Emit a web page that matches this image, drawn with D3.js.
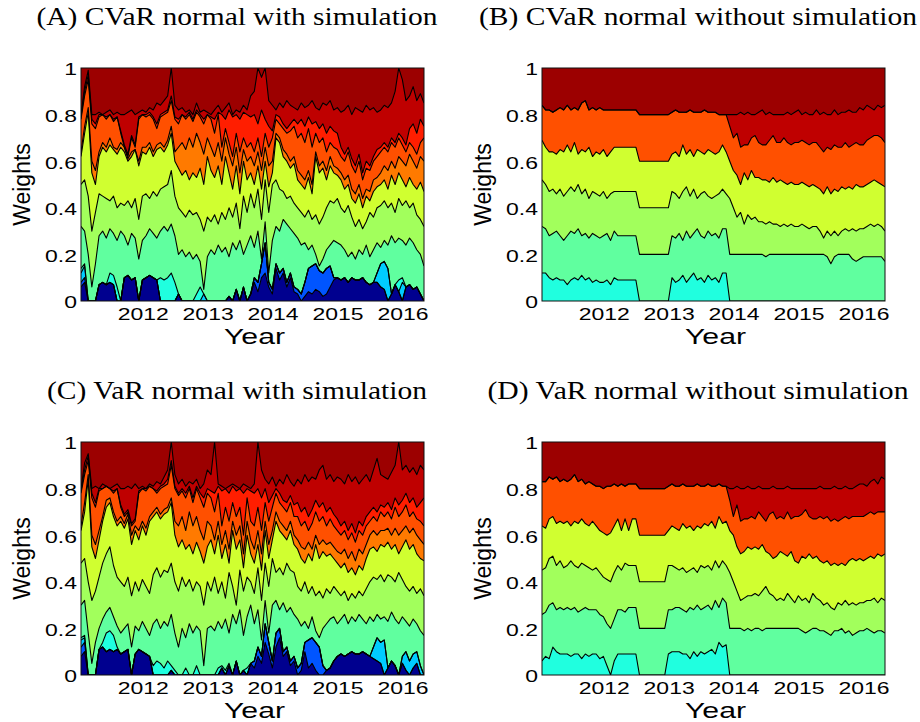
<!DOCTYPE html>
<html>
<head>
<meta charset="utf-8">
<script src="https://cdn.jsdelivr.net/npm/d3@7"></script>
<style>
  body { margin: 0; background: #fff; }
  svg { display: block; }
</style>
</head>
<body>
<svg id="chart" width="920" height="722"></svg>
<script>
// sampling of the back-test dates (decimal years)
const tStart = 2011.05, tStep = 0.0556, nPts = 96;
const xTicks = [2012, 2013, 2014, 2015, 2016];
const yTicks = [0, 0.2, 0.4, 0.6, 0.8, 1];

// cumulative portfolio weights (%), one array per stacked layer top

// (A) CVaR normal with simulation
const cvarSimNavy = [6,8,0,0,0,7,8,7,8,7,0,0, 10,11,9,10,0,9,10,11,10,9,0,0, 0,0,0,3,0,0,0,0,0,0,0,0, 0,0,0,0,0,2,0,5,0,6,0,3, 8,4,10,12,6,3,14,9,12,6,10,4, 3,0,2,4,3,5,4,2,3,6,9,10, 9,10,8,10,9,9,10,8,7,8,8,6, 5,0,3,7,4,0,6,7,5,6,3,0];
const cvarSimBlue = [8,10,0,0,0,7,8,7,8,7,0,0, 10,11,9,10,0,9,10,11,10,9,0,0, 0,0,0,3,0,0,0,0,0,0,0,0, 0,0,0,0,0,2,0,5,0,6,0,3, 10,8,16,25,8,5,16,12,14,8,12,6, 5,3,8,14,15,16,13,12,14,15,10,10, 9,10,8,10,9,9,10,8,7,8,8,6, 5,0,3,7,4,0,6,7,5,6,3,0];
const cvarSimSky = [12,15,0,0,0,7,8,7,8,7,0,0, 10,11,9,10,0,9,10,11,10,9,0,0, 0,0,0,3,0,0,0,0,0,0,3,0, 0,0,0,0,0,2,0,5,0,6,0,3, 10,8,16,25,8,5,16,12,14,8,12,6, 5,3,8,14,15,16,13,12,14,15,10,10, 9,10,8,10,9,9,10,8,7,8,12,16, 17,14,3,7,4,8,6,7,5,6,3,0];
const cvarSimAqua = [14,16,0,0,0,7,8,7,12,11,6,0, 10,11,9,10,0,9,10,11,10,9,10,9, 10,12,8,3,0,0,0,0,3,6,3,0, 0,0,0,0,0,2,0,5,0,6,0,3, 10,8,16,25,8,5,16,12,14,8,12,6, 5,3,8,14,15,16,13,12,14,15,10,10, 9,10,8,10,9,9,10,8,7,8,12,16, 17,14,3,7,9,10,6,7,5,6,3,0];
const cvarSimSea = [32,30,20,6,16,28,30,27,31,29,26,30, 28,24,29,27,18,26,28,31,29,27,30,32, 30,33,28,20,22,19,21,18,20,17,5,19, 22,20,24,21,23,19,25,22,26,20,24,28, 23,30,18,34,12,26,32,30,35,33,31,29, 27,24,25,22,24,20,15,18,22,24,26,25, 24,22,19,21,18,22,20,24,19,22,25,23, 26,24,28,25,27,26,24,27,25,22,20,15];
const cvarSimLime = [50,52,45,30,38,46,45,44,43,45,40,42, 41,43,40,44,35,45,46,44,47,45,48,49, 50,56,45,40,38,36,39,37,38,35,30,36, 34,37,33,38,35,40,36,42,31,45,38,46, 40,48,35,52,38,50,52,48,47,44,45,42, 40,38,36,39,35,37,33,36,40,43,42,44, 40,38,41,36,32,35,31,34,38,36,40,41, 43,40,42,38,44,41,43,40,42,37,35,32];
const cvarSimYellowGreen = [62,72,81,55,50,62,66,64,67,65,63,66, 64,60,62,65,58,64,63,66,62,65,66,64, 67,72,60,57,54,56,52,55,53,57,50,62, 56,53,58,50,62,55,48,58,46,60,52,55, 50,58,48,60,49,55,70,68,62,60,57,59, 52,50,48,53,46,62,55,57,52,58,55,54, 52,48,50,44,42,46,40,45,43,47,49,50, 52,48,54,50,55,52,49,53,50,48,51,47];
const cvarSimOrange = [64,75,83,60,56,64,68,66,70,66,65,68, 66,61,64,65,60,66,66,68,64,67,68,66, 69,75,64,66,68,65,70,66,72,68,63,70, 66,62,68,60,70,63,58,66,55,65,60,62, 58,64,56,66,58,60,72,70,65,63,60,62, 56,54,52,56,50,64,58,60,56,62,58,57, 55,52,54,48,46,50,44,48,47,52,53,55, 58,56,60,57,62,60,58,63,60,57,62,60];
const cvarSimRedOrange = [78,88,95,76,74,79,80,78,80,77,79,72, 66,62,70,66,78,80,79,80,78,74,79,80, 81,86,78,76,80,78,80,77,81,79,76,80, 78,72,80,66,74,68,62,72,64,70,66,68, 64,70,62,72,66,70,78,76,74,72,73,75, 70,72,68,74,66,72,68,70,64,68,66,65, 62,60,64,58,55,60,52,57,56,60,62,64, 66,64,68,66,70,67,64,68,66,63,68,70];
const cvarSimRed = [79,90,97,78,76,80,80,79,80,78,79,73, 67,63,71,67,79,80,80,81,79,76,80,81, 82,88,79,78,80,79,81,78,82,80,78,80, 79,78,81,80,78,82,79,80,78,81,80,79, 80,76,82,78,75,73,80,79,76,74,76,78, 76,78,75,79,76,77,74,76,72,75,73,72, 66,63,66,61,58,63,55,60,58,62,65,66, 68,66,70,68,72,70,67,74,76,72,78,75];
const cvarSimDarkRed = [80,92,99,80,80,81,80,81,82,80,81,80, 80,81,82,80,81,82,81,83,82,85,84,86, 88,100,84,82,83,81,82,80,85,81,82,81, 80,82,84,81,83,85,80,82,81,84,82,88, 90,100,96,100,86,84,82,85,83,86,84,83, 82,85,83,84,86,83,82,85,84,86,82,83, 81,82,84,80,83,82,81,84,82,83,81,82, 84,83,85,90,100,95,86,88,92,86,89,85];

// (B) CVaR normal without simulation
const cvarAqua = [12,12,10,9,10,9,9,7,9,10,9,11, 9,10,8,9,8,8,9,7,10,9,9,9, 9,9,9,0,0,0,0,0,0,0,0,0, 10,8,9,11,8,10,12,9,10,8,11,9, 10,8,12,12,0,0,0,0,0,0,0,0, 0,0,0,0,0,0,0,0,0,0,0,0, 0,0,0,0,0,0,0,0,0,0,0,0, 0,0,0,0,0,0,0,0,0,0,0,0];
const cvarSea = [32,31,28,29,30,28,26,28,30,29,31,28, 29,27,29,28,27,28,29,26,30,28,28,28, 28,28,28,20,20,20,20,20,20,20,20,20, 28,27,29,26,30,27,29,31,28,27,30,28, 29,27,31,31,20,20,20,20,20,20,20,20, 20,20,19,20,20,20,20,20,20,20,20,20, 20,20,20,20,20,20,20,19,16,19,20,20, 20,20,18,17,18,19,19,19,19,19,19,17];
const cvarLime = [52,50,47,48,46,48,45,47,49,47,50,46, 48,44,47,46,45,47,44,46,47,47,47,47, 47,47,47,40,40,40,40,40,40,40,40,40, 47,46,44,47,49,45,48,44,46,47,45,44, 45,46,48,46,44,40,36,38,33,37,35,36, 34,34,33,34,33,33,32,33,32,33,32,32, 33,32,31,32,32,30,27,30,28,30,28,30, 31,30,31,30,31,31,32,33,32,33,32,30];
const cvarYellowGreen = [69,66,64,64,63,65,64,67,64,68,63,65, 64,66,62,64,63,65,62,64,66,66,66,66, 66,66,66,60,60,60,60,60,60,60,60,60, 63,64,62,67,63,65,62,65,64,63,65,64, 63,64,67,64,60,56,54,50,55,52,56,53, 53,52,52,51,53,51,52,51,50,51,50,50, 51,50,49,50,49,48,46,49,46,48,47,49, 48,49,48,50,49,49,50,51,52,51,50,49];
const cvarRedOrange = [84,82,82,81,82,83,82,84,82,83,82,85, 86,82,83,82,83,82,82,82,82,82,82,82, 82,82,82,80,80,80,80,80,80,80,80,80, 81,82,81,81,81,82,81,81,81,82,81,81, 81,80,80,80,75,70,72,66,67,67,70,71, 68,67,67,69,71,68,68,70,68,67,68,68, 69,68,67,68,68,66,64,66,65,67,66,66, 68,66,67,68,67,67,69,70,71,71,70,68];
const cvarDarkRed = [84,82,82,81,82,83,82,84,82,83,82,85, 86,82,83,82,83,82,82,82,82,82,82,82, 82,82,82,80,80,80,80,80,80,80,80,80, 81,82,81,81,81,82,81,81,81,82,81,81, 81,80,80,80,80,80,80,81,80,81,80,80, 81,82,80,81,80,80,80,80,81,80,81,82, 80,81,80,80,82,80,81,80,80,82,80,81, 81,82,81,81,83,82,84,83,82,84,83,84];

// (C) VaR normal with simulation
const varSimNavy = [8,10,0,0,0,11,12,10,11,10,11,9, 10,11,0,9,11,10,9,8,0,0,0,0, 0,2,0,0,0,0,0,0,0,0,0,0, 0,0,0,3,0,4,0,6,0,2,0,5, 3,8,5,14,9,3,12,16,8,10,4,6, 0,2,10,3,5,2,0,0,2,3,6,8, 9,8,9,10,9,9,10,9,8,7,6,5, 0,3,6,4,0,5,2,0,3,5,0,0];
const varSimBlue = [12,14,0,0,0,11,12,10,11,10,11,9, 10,11,0,9,11,10,9,8,0,0,0,0, 0,2,0,0,0,0,0,0,0,0,0,0, 0,0,0,3,0,4,0,6,0,2,0,5, 6,12,8,22,14,6,18,20,10,12,6,8, 3,5,14,15,16,14,12,4,2,3,6,8, 9,8,9,10,9,9,10,9,8,7,6,5, 0,3,6,4,0,5,2,0,3,5,0,0];
const varSimSky = [15,16,0,0,0,11,12,10,11,10,11,9, 10,11,0,9,11,10,9,8,0,0,0,0, 0,2,0,0,0,0,0,0,0,0,0,0, 0,0,0,3,0,4,0,6,0,2,0,5, 6,12,8,22,14,6,18,20,10,12,6,8, 3,5,14,15,16,14,12,4,2,3,6,8, 9,8,9,10,9,9,10,9,8,12,16,14, 15,3,6,4,0,8,10,6,9,10,4,0];
const varSimAqua = [16,17,0,0,0,11,14,18,19,17,12,9, 10,11,0,9,11,10,9,8,4,6,5,3, 6,4,2,0,0,3,0,0,4,0,0,0, 0,0,3,4,2,5,0,6,0,2,3,5, 6,12,8,22,14,6,18,20,10,12,6,8, 3,5,14,15,16,14,12,4,2,3,6,8, 9,8,9,10,9,9,10,9,8,12,16,14, 15,3,6,4,0,8,10,6,9,10,4,0];
const varSimSea = [30,32,18,5,14,20,24,27,29,25,21,18, 20,22,12,21,19,23,20,17,22,24,20,23, 21,26,18,12,20,16,22,18,21,19,4,20, 21,19,23,20,24,18,26,22,28,17,25,30, 22,28,15,32,18,30,32,28,31,27,29,26, 24,21,23,20,25,19,16,20,22,24,25,22, 24,26,22,25,23,26,24,22,25,23,26,24, 25,23,27,24,22,25,23,21,24,22,19,17];
const varSimLime = [48,50,40,32,36,42,48,52,55,47,42,40, 38,42,34,40,36,41,38,35,43,46,42,45, 44,48,40,36,42,38,41,36,40,38,30,40, 36,42,35,40,33,44,38,30,45,36,42,40, 35,46,32,48,38,50,44,46,43,48,45,44, 38,36,40,35,38,34,36,33,37,35,38,36, 34,36,32,35,33,36,34,37,40,42,41,43, 40,43,42,40,44,41,38,36,38,35,37,34];
const varSimYellowGreen = [62,70,84,55,50,58,66,72,74,68,64,66, 63,67,56,62,58,64,60,66,68,70,67,69, 70,74,60,55,58,54,56,52,57,53,48,55, 58,52,60,50,56,48,62,54,58,46,60,52, 48,56,45,62,50,58,66,62,60,58,62,56, 54,50,48,52,49,56,50,53,51,52,50,48, 46,48,44,46,43,47,45,50,54,55,53,56, 55,57,54,56,52,55,58,54,56,52,50,49];
const varSimOrange = [64,74,86,60,56,62,68,75,76,70,66,68, 65,69,60,64,62,66,63,68,70,72,69,71, 72,76,66,64,68,62,70,64,68,62,58,66, 64,58,66,56,62,54,66,60,64,52,66,58, 54,62,52,66,56,62,70,66,64,62,66,60, 58,55,54,57,54,60,56,58,56,57,55,53, 52,54,50,53,49,54,52,56,60,62,60,62, 62,63,60,63,60,62,64,61,63,60,58,56];
const varSimRedOrange = [78,86,92,76,72,79,80,81,80,78,80,72, 68,70,64,66,78,80,79,81,80,78,80,81, 82,90,80,77,79,76,80,74,80,76,72,78, 76,70,78,64,72,66,74,68,72,60,76,66, 64,72,62,74,66,72,78,74,72,70,74,68, 68,64,66,62,65,70,66,68,64,67,64,62, 60,62,58,61,57,62,60,64,66,68,66,70, 68,70,67,72,68,70,73,68,70,67,66,64];
const varSimRed = [79,88,94,78,74,80,80,81,80,79,80,73, 69,71,65,67,79,80,80,81,80,79,81,82, 84,92,81,78,80,78,81,76,81,78,76,80, 79,78,81,79,80,78,81,79,80,78,80,79, 78,80,76,80,74,77,80,78,75,74,77,73, 74,70,72,68,71,75,72,74,70,72,69,67, 64,66,62,65,61,66,64,68,70,72,70,73, 72,74,71,76,73,75,78,74,76,72,74,76];
const varSimDarkRed = [80,91,95,80,81,80,82,81,80,81,82,80, 80,81,80,82,80,81,80,82,81,83,82,85, 88,100,86,82,84,81,83,82,84,80,82,88, 86,100,82,81,80,81,82,81,80,82,81,80, 82,100,88,84,82,85,81,84,82,86,83,81, 84,82,86,83,85,84,88,90,84,86,83,85, 84,82,86,83,85,82,84,86,83,88,93,86, 85,84,87,90,100,88,90,87,89,86,90,88];

// (D) VaR normal without simulation
const varAqua = [6,8,7,12,10,9,9,9,8,9,9,7, 9,8,9,9,7,8,4,0,6,9,9,9, 9,9,9,0,0,0,0,0,0,0,0,9, 10,10,10,9,9,7,10,8,10,9,10,11, 9,14,12,13,0,0,0,0,0,0,0,0, 0,0,0,0,0,0,0,0,0,0,0,0, 0,0,0,0,0,0,0,0,0,0,0,0, 0,0,0,0,0,0,0,0,0,0,0,0];
const varSea = [26,27,30,31,28,29,28,29,28,29,27,28, 29,28,28,28,26,25,22,20,24,28,28,27, 29,29,29,20,20,20,20,20,20,20,20,28, 28,29,29,28,27,29,28,30,28,29,30,28, 32,29,33,31,20,20,20,20,19,20,19,20, 20,19,20,20,20,20,20,20,20,20,20,20, 19,18,19,20,20,19,19,18,17,19,19,20, 18,19,17,18,19,19,20,19,18,19,19,18];
const varLime = [45,46,50,51,47,49,46,47,49,47,46,48, 47,46,45,46,44,42,41,40,44,47,45,48, 47,47,47,40,40,40,40,40,40,40,40,47, 47,46,45,46,44,45,46,44,47,46,47,45, 49,46,49,47,44,40,36,32,33,34,34,35, 34,36,38,35,34,32,33,32,35,33,31,34, 32,33,31,35,33,32,30,31,29,28,31,30, 32,30,31,30,31,31,32,32,33,31,33,32];
const varYellowGreen = [64,63,67,68,65,66,65,66,64,66,65,67, 65,64,66,64,62,61,60,61,64,67,62,67, 62,67,67,60,60,60,60,60,60,60,60,62, 64,63,62,65,63,64,62,64,63,65,64,66, 63,68,65,66,62,60,55,52,53,55,54,55, 54,56,53,52,50,51,53,52,51,53,49,48, 51,50,52,50,51,49,48,49,47,48,47,48, 47,49,50,49,50,49,50,51,50,52,51,52];
const varRedOrange = [83,83,85,84,85,83,84,83,84,86,83,84, 82,83,82,81,81,80,81,81,82,81,82,81, 82,82,82,80,80,80,80,80,80,80,80,81, 82,81,81,82,81,81,81,82,81,81,82,81, 81,82,81,81,75,68,73,66,67,67,68,67, 70,68,66,69,70,67,68,67,70,67,68,68, 69,71,68,67,67,68,67,68,66,67,66,67, 68,67,68,68,68,68,69,70,69,70,70,70];
const varDarkRed = [83,83,85,84,85,83,84,83,84,86,83,84, 82,83,82,81,81,80,81,81,82,81,82,81, 82,82,82,80,80,80,80,80,80,80,80,81, 82,81,81,82,81,81,81,82,81,81,82,81, 81,82,81,81,80,80,81,80,80,81,80,80, 81,80,80,80,81,80,80,80,81,80,80,80, 80,80,80,80,80,81,80,80,80,81,80,80, 81,80,80,81,82,82,81,83,84,82,85,84];

// jet-like colours of the assets
const colors = {
  navy: "#00008F", blue: "#0055FF", sky: "#00CCFF", aqua: "#20FFDF",
  sea: "#60FF9F", lime: "#A2FF5C", yellowGreen: "#D0FF30", orange: "#FF7A00",
  redOrange: "#FF5000", red: "#FF1E00", darkRed: "#BF0000", darkest: "#9C0000"
};

const simLayers = (n, b, s, a, se, l, yg, o, ro, r, dr) => [
  ["navy", n], ["blue", b], ["sky", s], ["aqua", a], ["sea", se], ["lime", l],
  ["yellowGreen", yg], ["orange", o], ["redOrange", ro], ["red", r], ["darkRed", dr]
];

const panels = [
  { title: "(A) CVaR normal with simulation", titleWidth: 401, left: 81, top: 68,
    layers: simLayers(cvarSimNavy, cvarSimBlue, cvarSimSky, cvarSimAqua, cvarSimSea, cvarSimLime,
      cvarSimYellowGreen, cvarSimOrange, cvarSimRedOrange, cvarSimRed, cvarSimDarkRed) },
  { title: "(B) CVaR normal without simulation", titleWidth: 438, left: 542, top: 68,
    layers: [["aqua", cvarAqua], ["sea", cvarSea], ["lime", cvarLime], ["yellowGreen", cvarYellowGreen],
      ["redOrange", cvarRedOrange], ["darkRed", cvarDarkRed]] },
  { title: "(C) VaR normal with simulation", titleWidth: 380, left: 81, top: 442,
    layers: simLayers(varSimNavy, varSimBlue, varSimSky, varSimAqua, varSimSea, varSimLime,
      varSimYellowGreen, varSimOrange, varSimRedOrange, varSimRed, varSimDarkRed) },
  { title: "(D) VaR normal without simulation", titleWidth: 421, left: 542, top: 442,
    layers: [["aqua", varAqua], ["sea", varSea], ["lime", varLime], ["yellowGreen", varYellowGreen],
      ["redOrange", varRedOrange], ["darkRed", varDarkRed]] }
];

const W = 343, H = 233;
const sans = "'Liberation Sans', Arial, Helvetica, sans-serif";
const serif = "'Liberation Serif', 'Times New Roman', serif";
const t = d3.range(nPts).map(k => tStart + k * tStep);

const svg = d3.select("#chart");

// widen axis labels like the exported figure
function stretch(sel, k) {
  sel.each(function () {
    const w = this.getComputedTextLength();
    d3.select(this).attr("textLength", w * k).attr("lengthAdjust", "spacingAndGlyphs");
  });
}

panels.forEach((p, pi) => {
  const g = svg.append("g").attr("transform", `translate(${p.left},${p.top})`);

  const x = d3.scaleLinear().domain([t[0], t[nPts - 1]]).range([0, W]);
  const y = d3.scaleLinear().domain([0, 1]).range([H, 0]);

  g.append("clipPath").attr("id", "clip" + pi)
    .append("rect").attr("width", W).attr("height", H);
  const plot = g.append("g").attr("clip-path", `url(#clip${pi})`);

  // top asset fills everything up to 1
  plot.append("path")
    .datum(t)
    .attr("d", d3.area().x(d => x(d)).y0(y(0)).y1(y(1)))
    .attr("fill", colors.darkest);

  const area = d3.area()
    .x((d, i) => x(t[i]))
    .y0(y(0))
    .y1(d => y(d / 100));

  // paint from the top layer down, each from 0 to its cumulative top
  plot.selectAll("path.layer")
    .data(p.layers.slice().reverse())
    .join("path")
    .attr("class", "layer")
    .attr("d", d => area(d[1]))
    .attr("fill", d => colors[d[0]]);

  const line = d3.line()
    .x((d, i) => x(t[i]))
    .y(d => y(d / 100));

  plot.selectAll("path.edge")
    .data(p.layers)
    .join("path")
    .attr("class", "edge")
    .attr("d", d => line(d[1]))
    .attr("fill", "none")
    .attr("stroke", "#000")
    .attr("stroke-width", 1.1)
    .attr("stroke-linejoin", "round");

  g.append("rect")
    .attr("width", W).attr("height", H)
    .attr("fill", "none").attr("stroke", "#111").attr("stroke-width", 1);

  const yAxis = g.append("g")
    .call(d3.axisLeft(y).tickValues(yTicks).tickFormat(d3.format("~g")).tickSize(0).tickPadding(4));
  yAxis.select(".domain").remove();
  yAxis.attr("font-family", sans).attr("font-size", 17);
  yAxis.selectAll("text").attr("dy", "0.4em").attr("fill", "#000");
  stretch(yAxis.selectAll("text"), 1.35);

  const xAxis = g.append("g")
    .attr("transform", `translate(0,${H})`)
    .call(d3.axisBottom(x).tickValues(xTicks).tickFormat(d3.format("d")).tickSize(0).tickPadding(7));
  xAxis.select(".domain").remove();
  xAxis.attr("font-family", sans).attr("font-size", 17);
  xAxis.selectAll("text").attr("fill", "#000");
  stretch(xAxis.selectAll("text"), 1.35);

  g.append("text")
    .attr("x", W / 2 + 2).attr("y", H + 43)
    .attr("text-anchor", "middle")
    .attr("font-family", sans).attr("font-size", 22)
    .attr("textLength", 61).attr("lengthAdjust", "spacingAndGlyphs")
    .text("Year");

  g.append("text")
    .attr("transform", `translate(-51,${H / 2}) rotate(-90)`)
    .attr("text-anchor", "middle")
    .attr("font-family", sans).attr("font-size", 23)
    .text("Weights");

  g.append("text")
    .attr("x", 156).attr("y", -43)
    .attr("text-anchor", "middle")
    .attr("font-family", serif).attr("font-size", 25)
    .attr("textLength", p.titleWidth).attr("lengthAdjust", "spacingAndGlyphs")
    .text(p.title);
});
</script>
</body>
</html>
